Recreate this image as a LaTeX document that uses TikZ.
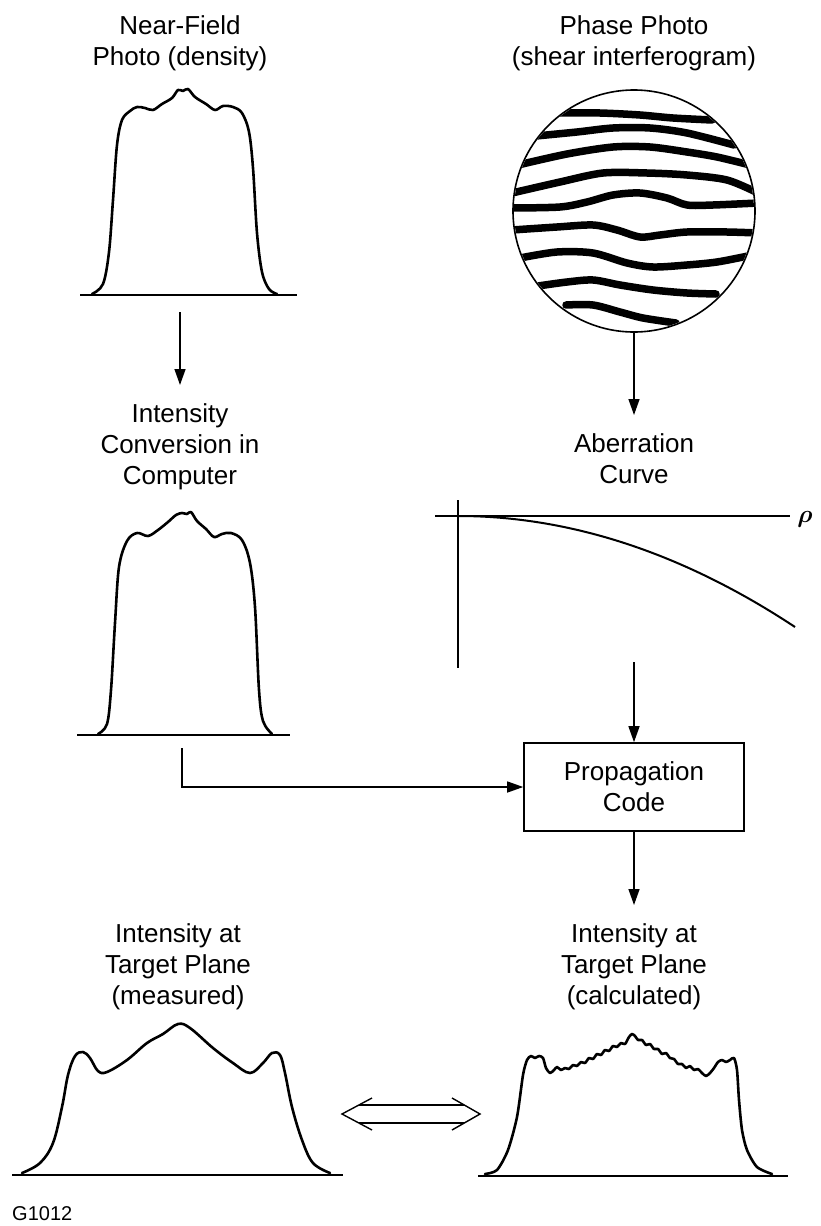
\documentclass[tikz,border=0pt]{standalone}
\usepackage{fontspec}
\usepackage{amsmath}
\setmainfont{Liberation Sans}
\usetikzlibrary{arrows.meta}

\begin{document}
\begin{tikzpicture}[x=1pt,y=-1pt,
  lbl/.style={align=center, anchor=north, inner xsep=0pt, inner ysep=18pt,
              font=\fontsize{26}{31}\selectfont},
  prof/.style={line width=2.6pt, line join=round, line cap=round},
  base/.style={line width=1.4pt},
  axis/.style={line width=1.3pt},
  arr/.style={line width=1.4pt, -{Triangle[length=16pt,width=11pt]}},
  fringe/.style={line width=7.5pt, line cap=round, line join=round},
  codebox/.style={draw, line width=1.6pt, minimum width=220pt, minimum height=88pt,
                  align=center, inner sep=0pt, font=\fontsize{26}{31}\selectfont},
]
\useasboundingbox (0,0) rectangle (820,1226);

% ---------- labels ----------
\node[lbl] (nf)   at (180,-3)  {Near-Field\\Photo (density)};
\node[lbl] (ph)   at (634,-3)  {Phase Photo\\(shear interferogram)};
\node[lbl] (icc)  at (180,385) {Intensity\\Conversion in\\Computer};
\node[lbl] (ab)   at (634,415) {Aberration\\Curve};
\node[lbl] (meas) at (178,905) {Intensity at\\Target Plane\\(measured)};
\node[lbl] (calc) at (634,905) {Intensity at\\Target Plane\\(calculated)};
\node[codebox] (prop) at (634,787) {Propagation\\Code};
\node[anchor=base west, inner sep=0pt, font=\fontsize{20}{24}\selectfont] (tag) at (12,1220) {G1012};

% ---------- near-field density profile ----------
\draw[base] (80,295) -- (297,295);
\draw[prof] plot[smooth, tension=0.55] coordinates {
  (92,294) (103,284) (109,252) (113,200) (117,145) (122,120) (130,111)
  (137,107) (145,108) (153,110) (162,104) (172,98) (178,90) (183,91)
  (188,89) (195,97) (206,104) (215,110) (223,106) (233,107) (242,113)
  (249,132) (253,168) (257,233) (262,272) (269,289) (277,294)};

% ---------- converted intensity profile ----------
\draw[base] (77,735) -- (290,735);
\draw[prof] plot[smooth, tension=0.55] coordinates {
  (98,734) (107,724) (111,690) (115,623) (119,567) (127,541) (137,533)
  (148,536) (158,530) (168,522) (176,515) (182,513) (187,514) (191,512)
  (197,521) (206,529) (214,537) (222,534) (231,533) (242,540) (250,563)
  (255,607) (259,690) (263,721) (272,734)};

% ---------- shear interferogram ----------
\begin{scope}
  \clip (634,211) circle (120);
  \draw[fringe] plot[smooth] coordinates {(560,113) (600,113) (640,115) (673,118) (712,120)};
  \draw[fringe] plot[smooth] coordinates {(536,136) (577,132) (613,128) (650,128) (687,133) (734,145)};
  \draw[fringe] plot[smooth] coordinates {(518,165) (567,154) (613,147) (650,147) (687,152) (717,157) (750,165)};
  \draw[fringe] plot[smooth] coordinates {(512,193) (560,182) (603,173) (647,173) (687,175) (727,180) (758,193)};
  \draw[fringe] plot[smooth] coordinates {(512,208) (560,207) (587,202) (613,195) (640,193) (667,198) (687,205) (713,205) (758,203)};
  \draw[fringe] plot[smooth] coordinates {(512,230) (557,227) (593,225) (617,230) (640,237) (660,235) (687,232) (727,232) (758,233)};
  \draw[fringe] plot[smooth] coordinates {(520,258) (557,252) (593,253) (627,263) (653,267) (687,265) (717,262) (748,256)};
  \draw[fringe] plot[smooth] coordinates {(538,286) (567,282) (593,280) (620,285) (653,290) (687,293) (716,294)};
  \draw[fringe] plot[smooth] coordinates {(566,305) (593,305) (620,312) (643,318) (676,323)};
\end{scope}
\node[circle, draw, line width=1.6pt, minimum size=242pt, inner sep=0pt] (phase) at (634,211) {};

% ---------- aberration curve ----------
\draw[axis] (435,516) -- (790,516);
\draw[axis] (458,500) -- (458,668);
\draw[line width=2pt] (458,516) .. controls (570,516) and (683,553) .. (795,627);
\node[inner sep=0pt, font=\fontsize{28}{28}\selectfont] (rho) at (805,519) {$\boldsymbol{\rho}$};

% ---------- target-plane profiles ----------
\draw[base] (12,1175) -- (343,1175);
\draw[prof] plot[smooth, tension=0.6] coordinates {
  (22,1173) (40,1163) (53,1143) (62,1107) (68,1075) (75,1056) (83,1052)
  (90,1058) (98,1071) (107,1072) (127,1060) (147,1043) (163,1034)
  (178,1024) (190,1028) (213,1048) (233,1063) (250,1073) (263,1063)
  (272,1053) (280,1055) (285,1073) (292,1107) (302,1140) (313,1163) (330,1173)};

\draw[base] (478,1176) -- (788,1176);
\draw[prof] plot[smooth, tension=0.45] coordinates {
  (485,1174) (497,1170) (508,1150) (517,1117) (523,1075) (527,1060) (531,1056)
  (535,1058) (539,1056) (543,1058) (546,1068) (550,1073) (554,1070) (557,1067)
  (561,1070) (565,1068) (569,1069) (573,1065) (577,1066) (581,1062) (585,1063)
  (589,1058) (593,1059) (597,1054) (601,1055) (605,1050) (609,1051) (613,1046)
  (617,1047) (621,1043) (625,1044) (629,1037) (632,1034) (635,1036) (638,1040)
  (642,1040) (646,1045) (650,1044) (654,1049) (658,1049) (662,1054) (666,1053)
  (670,1058) (674,1059) (678,1064) (682,1064) (686,1068) (690,1066) (694,1070)
  (698,1069) (702,1073) (706,1076) (710,1073) (714,1068) (718,1062) (722,1060)
  (726,1062) (730,1060) (734,1058) (737,1070) (739,1100) (742,1130) (747,1150)
  (757,1167) (772,1174)};

% ---------- connectors ----------
\coordinate (nfout) at (180,312);
\coordinate (about) at (634,662);
\coordinate (icout) at (182,748);
\draw[arr] (nfout) -- (icc.north);
\draw[arr] (phase.south) -- (ab.north);
\draw[arr] (about) -- (prop.north);
\draw[arr] (icout) |- (prop.west);
\draw[arr] (prop.south) -- (calc.north);

% comparison arrow (open, double shaft)
\coordinate (dl) at (342,1114);
\coordinate (dr) at (480,1114);
\draw[line width=1.4pt, line join=miter] (dl) ++(30,-16) -- (dl) -- ++(30,16);
\draw[line width=1.4pt, line join=miter] (dr) ++(-28,-16) -- (dr) -- ++(-28,16);
\draw[line width=1.4pt] ([shift={(17,-9)}]dl) -- ([shift={(-16,-9)}]dr);
\draw[line width=1.4pt] ([shift={(17,9)}]dl) -- ([shift={(-16,9)}]dr);
\end{tikzpicture}
\end{document}
